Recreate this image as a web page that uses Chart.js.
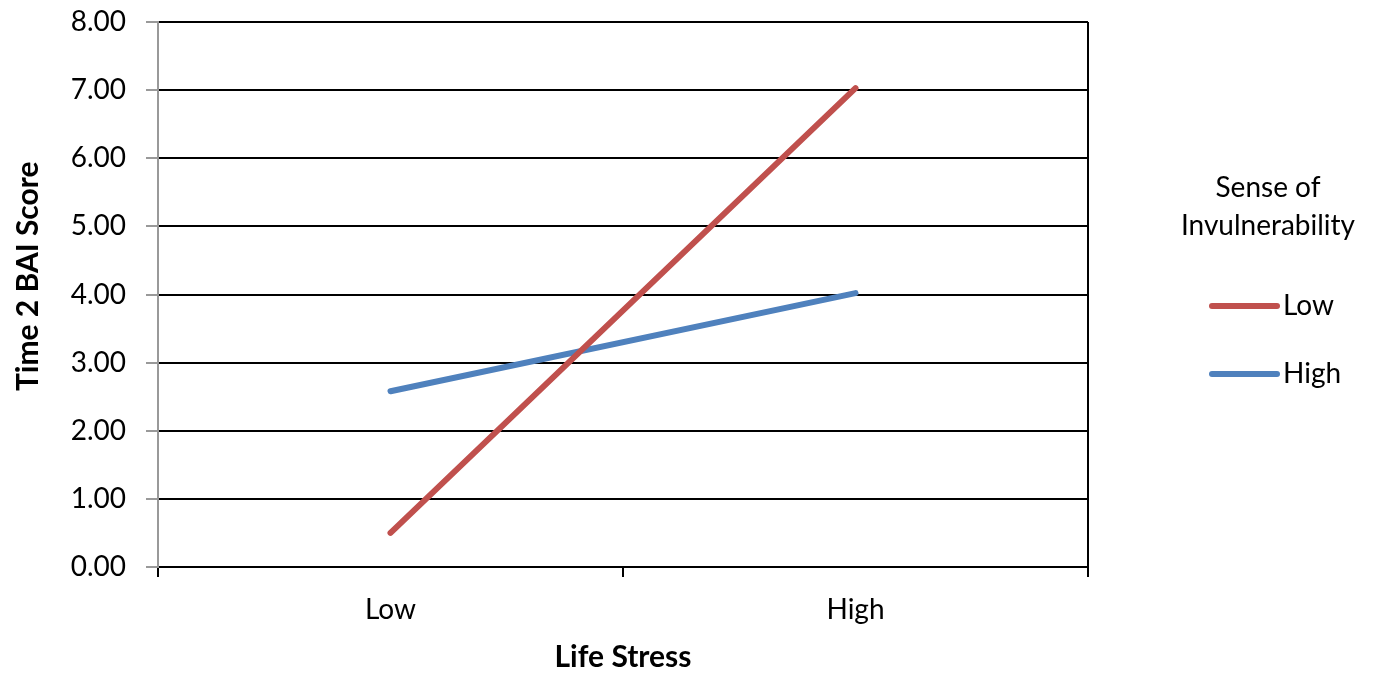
<!DOCTYPE html>
<html>
<head>
<meta charset="utf-8">
<script src="https://cdn.jsdelivr.net/npm/chart.js@4"></script>
<style>
  html, body { margin: 0; padding: 0; background: #fff; }
</style>
</head>
<body>
<canvas id="myChart" width="1376" height="675"></canvas>
<script>
const lifeStress = ['Low', 'High'];
const lowInvulnerability = [0.50, 7.03];
const highInvulnerability = [2.58, 4.02];
const seriesNames = ['Low', 'High'];
const legendTitle = ['Sense of', 'Invulnerability'];

const FONT = 'Lato, Carlito, "Open Sans", sans-serif';

// right-hand frame line + legend drawn next to the plot
const framePlugin = {
    id: 'frame',
    afterDraw(chart) {
        const ctx = chart.ctx;
        const a = chart.chartArea;
        ctx.save();
        ctx.strokeStyle = '#000';
        ctx.lineWidth = 2;
        ctx.beginPath();
        ctx.moveTo(a.right, a.top);
        ctx.lineTo(a.right, a.bottom);
        ctx.stroke();

        ctx.fillStyle = '#000';
        ctx.font = '28px ' + FONT;
        ctx.textAlign = 'center';
        ctx.textBaseline = 'middle';
        ctx.fillText(legendTitle[0], 1268, 188);
        ctx.fillText(legendTitle[1], 1268, 226);

        chart.data.datasets.forEach((ds, i) => {
            const y = 306 + i * 68;
            ctx.strokeStyle = ds.borderColor;
            ctx.lineWidth = 6;
            ctx.lineCap = 'round';
            ctx.beginPath();
            ctx.moveTo(1212, y);
            ctx.lineTo(1277, y);
            ctx.stroke();
            ctx.textAlign = 'left';
            ctx.fillText(ds.label, 1283, y);
        });
        ctx.restore();
    }
};

const data = {
    labels: lifeStress,
    datasets: [
        {
            label: seriesNames[0],
            borderColor: '#C0504D',
            backgroundColor: '#C0504D',
            data: lowInvulnerability,
        },
        {
            label: seriesNames[1],
            borderColor: '#4F81BD',
            backgroundColor: '#4F81BD',
            data: highInvulnerability,
        }
    ]
};

const config = {
    type: 'line',
    data: data,
    options: {
        responsive: false,
        animation: false,
        devicePixelRatio: 1,
        layout: {
            padding: { top: 22, right: 288, left: 0, bottom: 0 }
        },
        elements: {
            line: { borderWidth: 6, borderCapStyle: 'round', tension: 0 },
            point: { radius: 0, hoverRadius: 0 }
        },
        plugins: {
            legend: { display: false },
            tooltip: { enabled: false }
        },
        scales: {
            x: {
                offset: true,
                grid: {
                    offset: true,
                    drawOnChartArea: false,
                    color: '#000',
                    tickColor: '#000',
                    tickLength: 10,
                    lineWidth: 2
                },
                border: { color: '#000', width: 2 },
                ticks: {
                    color: '#000',
                    padding: 16,
                    font: { family: FONT, size: 28 }
                },
                title: {
                    display: true,
                    text: 'Life Stress',
                    color: '#000',
                    padding: { top: 4, bottom: 0 },
                    font: { family: FONT, size: 30, weight: 'bold' }
                },
                afterFit: s => { s.height = 108; s.paddingLeft = 0; s.paddingRight = 0; }
            },
            y: {
                min: 0,
                max: 8,
                grid: {
                    color: '#000',
                    lineWidth: 2,
                    tickColor: '#999',
                    tickLength: 12
                },
                border: { color: '#999', width: 2 },
                ticks: {
                    stepSize: 1,
                    color: '#000',
                    padding: 20,
                    font: { family: FONT, size: 28 },
                    callback: v => v.toFixed(2)
                },
                title: {
                    display: true,
                    text: '     Time 2 BAI Score',
                    color: '#000',
                    padding: { top: 10, bottom: 0 },
                    font: { family: FONT, size: 30, weight: 'bold' }
                },
                afterFit: s => { s.width = 158; s.paddingTop = 0; s.paddingBottom = 0; }
            }
        }
    },
    plugins: [framePlugin]
};

const myChart = new Chart(document.getElementById('myChart'), config);
</script>
</body>
</html>
